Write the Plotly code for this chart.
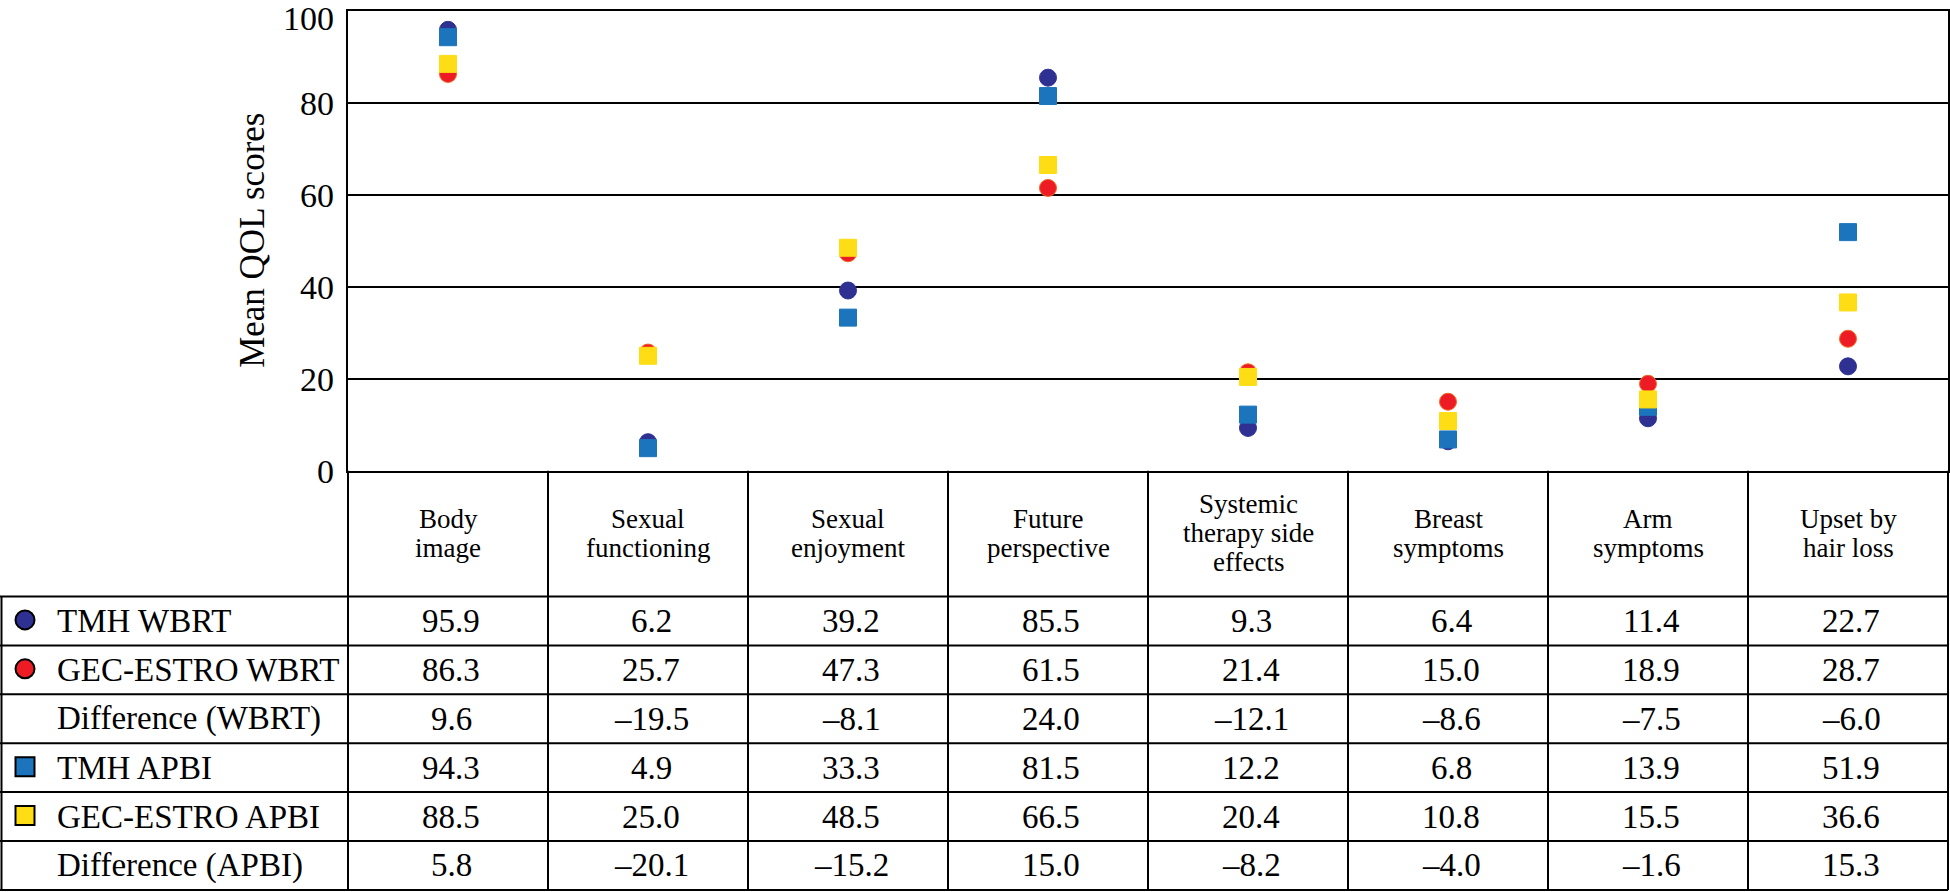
import plotly.graph_objects as go

W, H = 1950, 892

categories = ["Body<br>image", "Sexual<br>functioning", "Sexual<br>enjoyment", "Future<br>perspective",
              "Systemic<br>therapy side<br>effects", "Breast<br>symptoms", "Arm<br>symptoms", "Upset by<br>hair loss"]

tmh_wbrt = [95.9, 6.2, 39.2, 85.5, 9.3, 6.4, 11.4, 22.7]
gec_wbrt = [86.3, 25.7, 47.3, 61.5, 21.4, 15.0, 18.9, 28.7]
tmh_apbi = [94.3, 4.9, 33.3, 81.5, 12.2, 6.8, 13.9, 51.9]
gec_apbi = [88.5, 25.0, 48.5, 66.5, 20.4, 10.8, 15.5, 36.6]

row_labels = ["TMH WBRT", "GEC-ESTRO WBRT", "Difference (WBRT)", "TMH APBI", "GEC-ESTRO APBI", "Difference (APBI)"]
y_ticks = [0, 20, 40, 60, 80, 100]

NAVY = "#2E3192"
RED = "#ED1C24"
BLUE = "#1C75BC"
YELLOW = "#FFDD15"
FONT = "Liberation Serif"

# geometry (pixels)
PL, PR, PT, PB = 348, 1948, 11, 470.7
HDR_B = 596.5
ROW_H = 48.9
COL_W = (PR - PL) / len(categories)


def X(px):
    return px / W


def Y(py):
    return 1 - py / H


def fmt(v):
    s = f"{abs(v):.1f}"
    return ("\u2013" + s) if v < 0 else s


diff_wbrt = [round(a - b, 1) for a, b in zip(tmh_wbrt, gec_wbrt)]
diff_apbi = [round(a - b, 1) for a, b in zip(tmh_apbi, gec_apbi)]
rows = [tmh_wbrt, gec_wbrt, diff_wbrt, tmh_apbi, gec_apbi, diff_apbi]

xs = list(range(len(categories)))

fig = go.Figure()
series = [
    ("TMH WBRT", tmh_wbrt, "circle", NAVY, NAVY),
    ("GEC-ESTRO WBRT", gec_wbrt, "circle", RED, "#F26522"),
    ("TMH APBI", tmh_apbi, "square", BLUE, BLUE),
    ("GEC-ESTRO APBI", gec_apbi, "square", YELLOW, YELLOW),
]
for name, vals, sym, col, edge in series:
    fig.add_trace(go.Scatter(
        x=xs, y=vals, mode="markers", name=name, cliponaxis=False,
        marker=dict(symbol=sym, size=17, color=col, line=dict(color=edge, width=1)),
        showlegend=False,
    ))

shapes = []
line = dict(color="black", width=2)
n_rows = len(row_labels)
bottom = HDR_B + n_rows * ROW_H
# horizontal table lines
for k in range(n_rows + 1):
    yy = HDR_B + k * ROW_H
    shapes.append(dict(type="line", xref="paper", yref="paper", x0=X(0), x1=X(PR), y0=Y(yy), y1=Y(yy), line=line))
# vertical lines
shapes.append(dict(type="line", xref="paper", yref="paper", x0=X(1.5), x1=X(1.5), y0=Y(HDR_B), y1=Y(bottom), line=line))
for i in range(len(categories) + 1):
    xx = PL + i * COL_W
    shapes.append(dict(type="line", xref="paper", yref="paper", x0=X(xx), x1=X(xx), y0=Y(PB), y1=Y(bottom), line=line))

# legend icons in the row-label column
icon_specs = {0: ("circle", NAVY), 1: ("circle", RED), 3: ("rect", BLUE), 4: ("rect", YELLOW)}
for k, (kind, col) in icon_specs.items():
    cy = HDR_B + (k + 0.5) * ROW_H - 1
    r = 9.5
    shapes.append(dict(type=kind, xref="paper", yref="paper", x0=X(25 - r), x1=X(25 + r),
                       y0=Y(cy + r), y1=Y(cy - r), fillcolor=col, line=dict(color="black", width=2)))

annotations = []
# y tick labels placed on the y axis scale (top one nudged down to stay inside the page)
for t in y_ticks:
    annotations.append(dict(text=str(t), xref="paper", yref="y", x=X(PL - 12), y=t, showarrow=False,
                            xanchor="right", yanchor="middle", yshift=(-8 if t == max(y_ticks) else -1),
                            font=dict(family=FONT, size=34, color="black")))

# header labels, one annotation per line for tight spacing
for i, cat in enumerate(categories):
    parts = cat.split("<br>")
    cx = PL + (i + 0.5) * COL_W
    n = len(parts)
    for j, p in enumerate(parts):
        cy = 533 + (j - (n - 1) / 2) * 29
        annotations.append(dict(text=p, xref="paper", yref="paper", x=X(cx), y=Y(cy), showarrow=False,
                                xanchor="center", yanchor="middle", font=dict(family=FONT, size=27, color="black")))

# row labels and values
for k, lab in enumerate(row_labels):
    cy = HDR_B + (k + 0.5) * ROW_H
    annotations.append(dict(text=lab, xref="paper", yref="paper", x=X(55), y=Y(cy), showarrow=False,
                            xanchor="left", yanchor="middle", font=dict(family=FONT, size=33, color="black")))
    for i, v in enumerate(rows[k]):
        cx = PL + (i + 0.5) * COL_W + 3
        annotations.append(dict(text=fmt(v), xref="paper", yref="paper", x=X(cx), y=Y(cy), showarrow=False,
                                xanchor="center", yanchor="middle", font=dict(family=FONT, size=33, color="black")))

# y axis title
annotations.append(dict(text="Mean QOL scores", xref="paper", yref="paper", x=X(253), y=Y((PT + PB) / 2),
                        textangle=-90, showarrow=False, xanchor="center", yanchor="middle",
                        font=dict(family=FONT, size=35, color="black")))

fig.update_layout(
    width=W, height=H,
    margin=dict(l=0, r=0, t=0, b=0, autoexpand=False),
    paper_bgcolor="white", plot_bgcolor="white",
    shapes=shapes, annotations=annotations,
    xaxis=dict(domain=[X(PL), X(PR)], range=[-0.5, len(categories) - 0.5], showticklabels=False,
               showgrid=False, zeroline=False, showline=True, mirror=True, linecolor="black", linewidth=2,
               fixedrange=True, automargin=False),
    yaxis=dict(domain=[Y(PB), Y(PT)], range=[0, 100], tickvals=y_ticks, ticks="", showticklabels=False,
               automargin=False, showgrid=True, gridcolor="black",
               gridwidth=2, zeroline=False, showline=True, mirror=True, linecolor="black", linewidth=2,
               fixedrange=True),
    showlegend=False,
)

fig.write_html(
    "out.html",
    config={"displayModeBar": False},
    post_script="document.body.style.margin='0px';document.body.style.overflow='hidden';",
)
